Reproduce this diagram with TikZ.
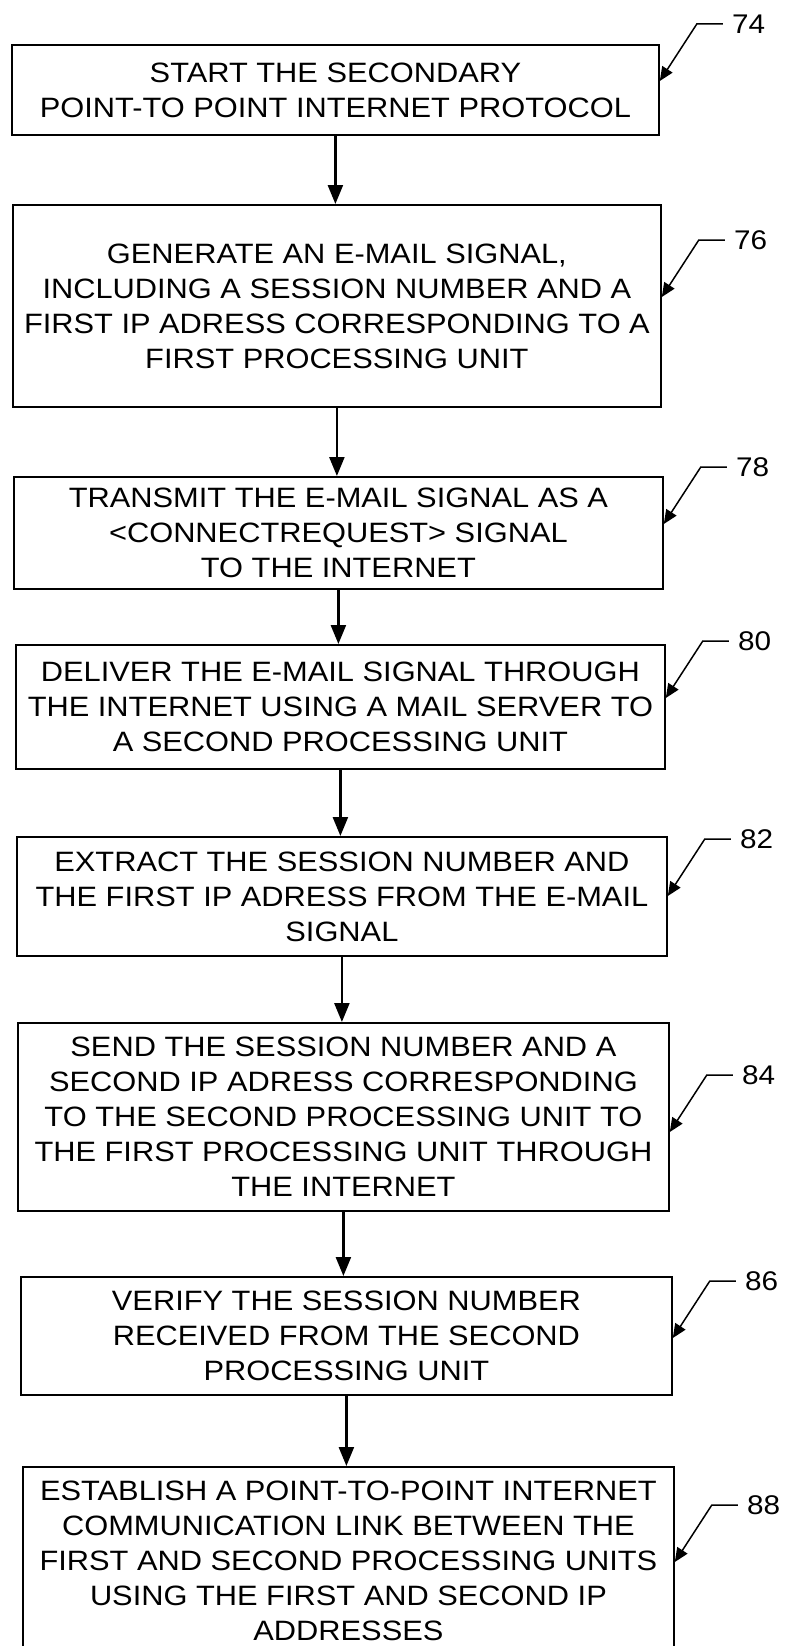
\documentclass[tikz,border=0pt]{standalone}
\usepackage{fontspec}
\setmainfont{Liberation Sans}[FakeStretch=1.1]
\usetikzlibrary{arrows.meta}
\begin{document}
\begin{tikzpicture}[x=1pt,y=-1pt,
  box/.style={draw, line width=1.8pt, inner sep=0pt, align=center, anchor=north west,
    font=\fontsize{28pt}{35pt}\selectfont},
  flow/.style={line width=2.4pt, -{Triangle[width=15pt,length=19pt]}},
  leader/.style={line width=1.5pt, -{Triangle[width=12pt,length=14pt]}},
  reflabel/.style={anchor=west, inner sep=0pt, font=\fontsize{27pt}{30pt}\selectfont}]
\useasboundingbox (0,0) rectangle (792,1646);

\node[box, minimum width=647pt, minimum height=90pt] (b74) at (11,44)
  {START THE SECONDARY\\POINT-TO POINT INTERNET PROTOCOL};
\node[box, minimum width=648pt, minimum height=202pt] (b76) at (12,204)
  {GENERATE AN E-MAIL SIGNAL,\\INCLUDING A SESSION NUMBER AND A\\FIRST IP ADRESS CORRESPONDING TO A\\FIRST PROCESSING UNIT};
\node[box, minimum width=649pt, minimum height=112pt] (b78) at (13,476)
  {TRANSMIT THE E-MAIL SIGNAL AS A\\<CONNECTREQUEST> SIGNAL\\TO THE INTERNET};
\node[box, minimum width=649pt, minimum height=124pt] (b80) at (15,644)
  {DELIVER THE E-MAIL SIGNAL THROUGH\\THE INTERNET USING A MAIL SERVER TO\\A SECOND PROCESSING UNIT};
\node[box, minimum width=650pt, minimum height=119pt] (b82) at (16,836)
  {EXTRACT THE SESSION NUMBER AND\\THE FIRST IP ADRESS FROM THE E-MAIL\\SIGNAL};
\node[box, minimum width=651pt, minimum height=188pt] (b84) at (17,1022)
  {SEND THE SESSION NUMBER AND A\\SECOND IP ADRESS CORRESPONDING\\TO THE SECOND PROCESSING UNIT TO\\THE FIRST PROCESSING UNIT THROUGH\\THE INTERNET};
\node[box, minimum width=651pt, minimum height=118pt] (b86) at (20,1276)
  {VERIFY THE SESSION NUMBER\\RECEIVED FROM THE SECOND\\PROCESSING UNIT};
\node[box, minimum width=651pt, minimum height=188pt] (b88) at (22,1466)
  {ESTABLISH A POINT-TO-POINT INTERNET\\COMMUNICATION LINK BETWEEN THE\\FIRST AND SECOND PROCESSING UNITS\\USING THE FIRST AND SECOND IP\\ADDRESSES};

\foreach \a/\b in {b74/b76,b76/b78,b78/b80,b80/b82,b82/b84,b84/b86,b86/b88}
  \draw[flow] (\a.south) -- (\a.south |- \b.north);

% reference numerals
\foreach \n/\ty in {74/81,76/297,78/524,80/698,82/896,84/1132,86/1338,88/1562}{
  \coordinate (t\n) at (b\n.east |- 0,\ty);
  \node[reflabel] (l\n) at ([shift={(72pt,57pt)}]t\n) {\n};
  \draw[leader] ([xshift=-9pt]l\n.west) -- ++(-26pt,0pt) -- (t\n);
}
\end{tikzpicture}
\end{document}
